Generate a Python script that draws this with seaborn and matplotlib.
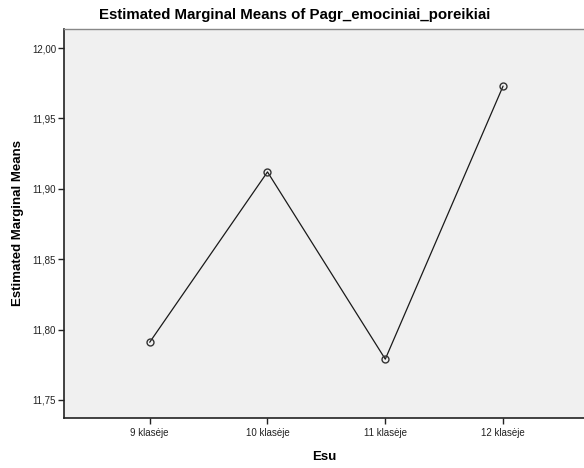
import matplotlib
matplotlib.use("Agg")
import matplotlib.pyplot as plt
import seaborn as sns
import pandas as pd

categories = ["9 klasėje", "10 klasėje", "11 klasėje", "12 klasėje"]
means = [11.791, 11.912, 11.779, 11.973]
yticks = [11.75, 11.80, 11.85, 11.90, 11.95, 12.00]
ytick_labels = ["11,75", "11,80", "11,85", "11,90", "11,95", "12,00"]

sns.set_theme(style="white")
plt.rcParams["font.family"] = ["Liberation Sans", "DejaVu Sans"]
plt.rcParams["text.color"] = "black"
plt.rcParams["axes.labelcolor"] = "black"

df = pd.DataFrame({"Esu": categories, "mean": means})

W, H = 584, 468
fig = plt.figure(figsize=(W / 100, H / 100), dpi=100)
left, right, top, bottom = 64.3, 584.0, 28.5, 417.7
ax = fig.add_axes([left / W, 1 - bottom / H, (right - left) / W, (bottom - top) / H])
ax.set_facecolor("#f0f0f0")

sns.lineplot(data=df, x="Esu", y="mean", sort=False, ax=ax, color="#1a1a1a",
             linewidth=0.9, marker="o", markersize=5, markerfacecolor="none",
             markeredgecolor="#333333", markeredgewidth=1.0)

ax.set_xlim(-0.725, 3.687)
ax.set_ylim(11.7374, 12.0139)
ax.set_yticks(yticks)
ax.set_yticklabels(ytick_labels)
ax.set_xticks(range(len(categories)))
ax.set_xticklabels(categories)

for s in ["left", "bottom"]:
    ax.spines[s].set_color("#222222")
    ax.spines[s].set_linewidth(1.2)
ax.spines["top"].set_color("#888888")
ax.spines["top"].set_linewidth(1.0)
ax.spines["right"].set_visible(False)

ax.tick_params(axis="x", pad=3.5)
ax.tick_params(axis="both", direction="out", length=4, width=1.0, color="#222222",
               labelsize=7, labelcolor="#222222", left=True, bottom=True)
ax.tick_params(axis="y", pad=2)

ax.set_xlabel("Esu", fontsize=9.5, fontweight="bold", labelpad=9)
ax.set_ylabel("Estimated Marginal Means", fontsize=9.5, fontweight="bold", labelpad=6)
fig.text(0.505, 1 - 15 / H, "Estimated Marginal Means of Pagr_emociniai_poreikiai",
         ha="center", va="center", fontsize=10.8, fontweight="bold", color="black")

fig.savefig("out.png", dpi=100, facecolor="white")
